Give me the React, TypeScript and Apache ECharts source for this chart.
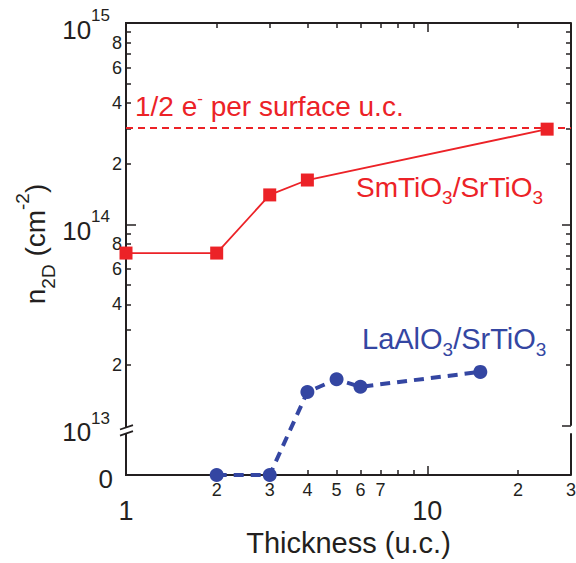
import React, { useEffect, useRef } from 'react';
import * as echarts from 'echarts';

// ---------- data ----------
const STO_THICKNESS = [1, 2, 3, 4, 25];
const STO_DENSITY = [7.2e13, 7.2e13, 1.4e14, 1.66e14, 2.97e14];
const LAO_THICKNESS = [2, 3, 4, 5, 6, 15];
const LAO_DENSITY = [0, 0, 1.47e13, 1.7e13, 1.56e13, 1.85e13];
const HALF_ELECTRON_DENSITY = 3.0e14;

const X_MIN = 1;
const X_MAX = 30;
const X_MINOR_TICKS = [2, 3, 4, 5, 6, 7, 8, 9, 20];
const X_MAJOR_TICKS = [10];
const X_LABEL_VALUES = [1, 2, 3, 4, 5, 6, 7, 10, 20, 30];
const X_LABELS = ['1', '2', '3', '4', '5', '6', '7', '10', '2', '3'];

const Y_LOW_DECADE = 13;
const Y_HIGH_DECADE = 15;
const ZERO_GAP_DECADES = 0.245; // where the "0" sits below the axis break
const Y_MINOR_TICKS = [2e13, 3e13, 4e13, 5e13, 6e13, 7e13, 8e13, 9e13, 2e14, 3e14, 4e14, 5e14, 6e14, 7e14, 8e14, 9e14];
const Y_MAJOR_TICKS_LEFT = [1e14];
const Y_MAJOR_TICKS_RIGHT = [1e13, 1e14];
const Y_LABEL_VALUES = [0, 1e13, 2e13, 4e13, 6e13, 8e13, 1e14, 2e14, 4e14, 6e14, 8e14, 1e15];
const Y_LABELS = ['0', '10|13', '2', '4', '6', '8', '10|14', '2', '4', '6', '8', '10|15'];
const AXIS_BREAK = [12.992, 12.962];

const RED = '#ec2227';
const BLUE = '#3446a2';
const INK = '#231f20';
const FONT = '"Liberation Sans", Arial, Helvetica, sans-serif';

const Y_ZERO = Y_LOW_DECADE - ZERO_GAP_DECADES;
const lx = (v: number) => Math.log10(v);
const ly = (v: number) => (v > 0 ? Math.log10(v) : Y_ZERO);

function nearestIndex(list: number[], v: number) {
  let best = 0;
  let d = Infinity;
  list.forEach((x, i) => {
    const dd = Math.abs(x - v);
    if (dd < d) { d = dd; best = i; }
  });
  return best;
}

export default function App() {
  const ref = useRef<HTMLDivElement>(null);

  useEffect(() => {
    if (!ref.current) return;
    document.body.style.margin = '0';
    document.body.style.overflow = 'hidden';
    const chart = echarts.init(ref.current, undefined, { renderer: 'svg', width: 576, height: 563 });

    const xLabelPos = X_LABEL_VALUES.map(lx);
    const yLabelPos = Y_LABEL_VALUES.map(ly);

    const tickStyle = { color: INK, width: 1.5 };
    const baseX = {
      type: 'value' as const,
      min: lx(X_MIN),
      max: lx(X_MAX),
      splitLine: { show: false },
    };
    const baseY = {
      type: 'value' as const,
      min: Y_ZERO,
      max: Y_HIGH_DECADE,
      splitLine: { show: false },
    };
    const hiddenLine = { show: false, onZero: false };
    const frameSeries = (pts: number[][]) => ({
      type: 'line',
      xAxisIndex: 0,
      yAxisIndex: 0,
      silent: true,
      clip: false,
      z: 4,
      symbol: 'none',
      data: pts,
      lineStyle: { color: INK, width: 2 },
      tooltip: { show: false },
    });

    chart.setOption({
      animation: false,
      backgroundColor: '#ffffff',
      grid: { left: 126, right: 5, top: 23, bottom: 88, containLabel: false, outerBoundsMode: 'none' },
      xAxis: [
        {
          ...baseX,
          position: 'bottom',
          axisLine: { show: true, onZero: false, lineStyle: { color: INK, width: 2 } },
          axisTick: { show: true, inside: true, length: 5, lineStyle: tickStyle, customValues: X_MINOR_TICKS.map(lx) },
          axisLabel: {
            show: true,
            margin: 6,
            customValues: xLabelPos,
            color: INK,
            fontFamily: FONT,
            formatter: (v: number) => {
              const t = X_LABELS[nearestIndex(xLabelPos, v)];
              return t === '1' || t === '10' ? `{big|${t}}` : `{sm|${t}}`;
            },
            rich: {
              sm: { fontSize: 18, fontFamily: FONT, color: INK },
              big: { fontSize: 27, fontFamily: FONT, color: INK, padding: [16, 0, 0, 0] },
            },
          },
          name: 'Thickness (u.c.)',
          nameLocation: 'middle',
          nameGap: 53,
          nameMoveOverlap: false,
          nameTextStyle: { fontSize: 29, fontFamily: FONT, color: INK },
        },
        {
          ...baseX,
          position: 'bottom',
          axisLine: hiddenLine,
          axisTick: { show: true, inside: true, length: 9, lineStyle: tickStyle, customValues: X_MAJOR_TICKS.map(lx) },
          axisLabel: { show: false },
        },
        {
          ...baseX,
          position: 'top',
          axisLine: { show: true, onZero: false, lineStyle: { color: INK, width: 2 } },
          axisTick: { show: true, inside: true, length: 5, lineStyle: tickStyle, customValues: X_MINOR_TICKS.map(lx) },
          axisLabel: { show: false },
        },
        {
          ...baseX,
          position: 'top',
          axisLine: hiddenLine,
          axisTick: { show: true, inside: true, length: 9, lineStyle: tickStyle, customValues: X_MAJOR_TICKS.map(lx) },
          axisLabel: { show: false },
        },
      ],
      yAxis: [
        {
          ...baseY,
          position: 'left',
          axisLine: hiddenLine,
          axisTick: { show: true, inside: true, length: 5, lineStyle: tickStyle, customValues: Y_MINOR_TICKS.map(ly) },
          axisLabel: {
            show: true,
            margin: 4,
            customValues: yLabelPos,
            color: INK,
            fontFamily: FONT,
            formatter: (v: number) => {
              const t = Y_LABELS[nearestIndex(yLabelPos, v)];
              if (t.includes('|')) {
                const [b, e] = t.split('|');
                return `{b|${b}}{s|${e}}`;
              }
              if (t === '0') return `{z|0}`;
              return `{n|${t}}`;
            },
            rich: {
              n: { fontSize: 18, fontFamily: FONT, color: INK },
              b: { fontSize: 26, fontFamily: FONT, color: INK, padding: [13, 0, 0, 0] },
              s: { fontSize: 17, fontFamily: FONT, color: INK, padding: [0, 12, 15, 0] },
              z: { fontSize: 26, fontFamily: FONT, color: INK, padding: [8, 9, 0, 0] },
            },
          },
        },
        {
          ...baseY,
          position: 'left',
          axisLine: hiddenLine,
          axisTick: { show: true, inside: true, length: 10, lineStyle: tickStyle, customValues: Y_MAJOR_TICKS_LEFT.map(ly) },
          axisLabel: { show: false },
        },
        {
          ...baseY,
          position: 'right',
          axisLine: hiddenLine,
          axisTick: { show: true, inside: true, length: 5, lineStyle: tickStyle, customValues: Y_MINOR_TICKS.map(ly) },
          axisLabel: { show: false },
        },
        {
          ...baseY,
          position: 'right',
          axisLine: hiddenLine,
          axisTick: { show: true, inside: true, length: 9, lineStyle: tickStyle, customValues: Y_MAJOR_TICKS_RIGHT.map(ly) },
          axisLabel: { show: false },
        },
      ],
      series: [
        {
          type: 'line',
          name: 'SmTiO3/SrTiO3',
          xAxisIndex: 0,
          yAxisIndex: 0,
          clip: false,
          z: 3,
          data: STO_THICKNESS.map((t, i) => [lx(t), ly(STO_DENSITY[i])]),
          symbol: 'rect',
          symbolSize: 13,
          itemStyle: { color: RED },
          lineStyle: { color: RED, width: 1.8 },
          markLine: {
            silent: true,
            symbol: 'none',
            label: { show: false },
            lineStyle: { color: RED, width: 1.8, type: [7, 5] },
            data: [{ yAxis: ly(HALF_ELECTRON_DENSITY) }],
          },
        },
        {
          type: 'line',
          name: 'LaAlO3/SrTiO3',
          xAxisIndex: 0,
          yAxisIndex: 0,
          clip: false,
          z: 3,
          data: LAO_THICKNESS.map((t, i) => [lx(t), ly(LAO_DENSITY[i])]),
          symbol: 'circle',
          symbolSize: 14,
          itemStyle: { color: BLUE },
          lineStyle: { color: BLUE, width: 4, type: [10, 7] },
        },
        // right-hand frame, broken at the axis break
        frameSeries([[lx(X_MAX), Y_HIGH_DECADE], [lx(X_MAX), Y_LOW_DECADE]]),
        frameSeries([[lx(X_MAX), AXIS_BREAK[1]], [lx(X_MAX), Y_ZERO]]),
      ],
    });

    const px = (x: number, y: number) => chart.convertToPixel({ xAxisIndex: 0, yAxisIndex: 0 }, [x, y]) as number[];
    const xl = px(lx(X_MIN), Y_HIGH_DECADE)[0];
    const yTop = px(0, Y_HIGH_DECADE)[1];
    const yBot = px(0, Y_ZERO)[1];
    const yB1 = px(0, AXIS_BREAK[0])[1];
    const yB2 = px(0, AXIS_BREAK[1])[1];

    const seg = (x1: number, y1: number, x2: number, y2: number, w = 2) => ({
      type: 'line', z: 1, silent: true,
      shape: { x1, y1, x2, y2 },
      style: { stroke: INK, lineWidth: w },
    });

    chart.setOption({
      graphic: [
        seg(xl, yTop - 1, xl, yB1),
        seg(xl, yB2, xl, yBot + 1),
        seg(xl - 6, yB1 + 2.2, xl + 7, yB1 - 2.2, 1.8),
        seg(xl - 6, yB2 + 2.2, xl + 7, yB2 - 2.2, 1.8),
        {
          type: 'text', z: 5, silent: true, x: 135, y: 106,
          style: {
            text: '{a|1/2 e}{p|-}{a| per surface u.c.}',
            align: 'left', verticalAlign: 'middle', fill: RED,
            rich: {
              a: { fontSize: 28, fontFamily: FONT, fill: RED },
              p: { fontSize: 17, fontFamily: FONT, fill: RED, padding: [0, 0, 16, 0] },
            },
          },
        },
        {
          type: 'text', z: 5, silent: true, x: 356, y: 187,
          style: {
            text: '{a|SmTiO}{d|3}{a|/SrTiO}{d|3}',
            align: 'left', verticalAlign: 'middle', fill: RED,
            rich: {
              a: { fontSize: 28, fontFamily: FONT, fill: RED },
              d: { fontSize: 19, fontFamily: FONT, fill: RED, padding: [20, 0, 0, 0] },
            },
          },
        },
        {
          type: 'text', z: 5, silent: true, x: 362, y: 339,
          style: {
            text: '{a|LaAlO}{d|3}{a|/SrTiO}{d|3}',
            align: 'left', verticalAlign: 'middle', fill: BLUE,
            rich: {
              a: { fontSize: 29, fontFamily: FONT, fill: BLUE },
              d: { fontSize: 19, fontFamily: FONT, fill: BLUE, padding: [20, 0, 0, 0] },
            },
          },
        },
        {
          type: 'text', z: 5, silent: true, x: 35, y: 244, rotation: Math.PI / 2,
          style: {
            text: '{m|n}{d|2D}{m| (cm}{u|-2}{m|)}',
            align: 'center', verticalAlign: 'middle', fill: INK,
            rich: {
              m: { fontSize: 28, fontFamily: FONT, fill: INK },
              d: { fontSize: 19, fontFamily: FONT, fill: INK, padding: [26, 0, 0, 0] },
              u: { fontSize: 19, fontFamily: FONT, fill: INK, padding: [0, 0, 26, 0] },
            },
          },
        },
      ],
    });

    return () => chart.dispose();
  }, []);

  return <div ref={ref} style={{ width: 576, height: 563 }} />;
}
